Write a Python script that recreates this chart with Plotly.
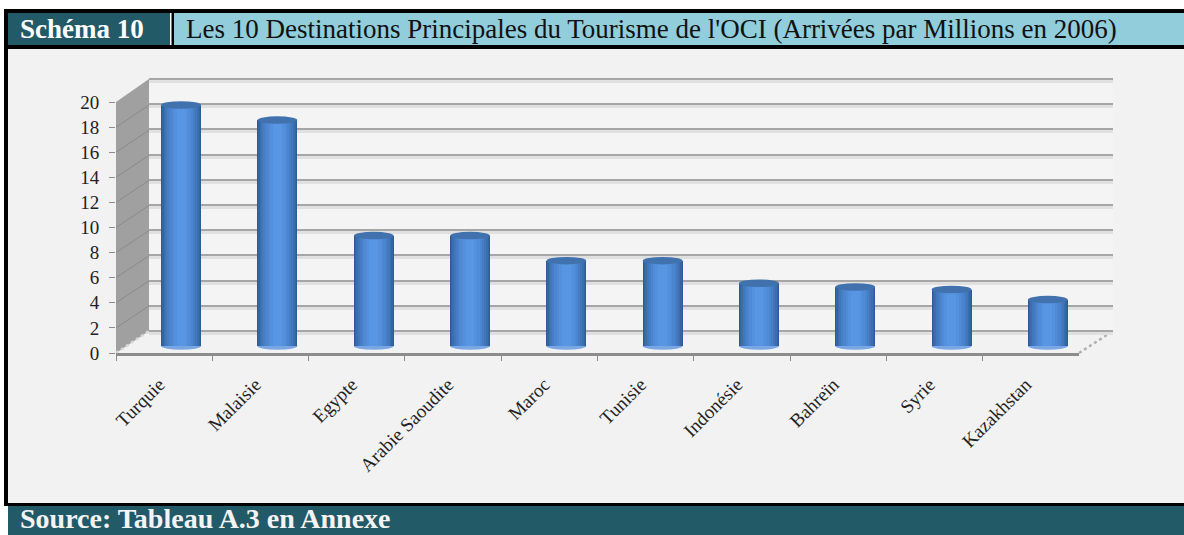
import plotly.graph_objects as go

CATEGORIES = ["Turquie", "Malaisie", "Egypte", "Arabie Saoudite", "Maroc", "Tunisie", "Indonésie", "Bahreïn", "Syrie", "Kazakhstan"]
ARRIVALS = [19.2, 18.0, 8.8, 8.8, 6.8, 6.8, 5.0, 4.7, 4.5, 3.7]
Y_TICKS = list(range(0, 21, 2))
HEADER_TAG = "Schéma 10"
HEADER_TITLE = "Les 10 Destinations Principales du Tourisme de l'OCI (Arrivées par Millions en 2006)"
FOOTER = "Source: Tableau A.3 en Annexe"

W, H = 1184, 535
FONT = "Liberation Serif"
TEAL = "#225a68"
SKY = "#92cddc"
PANEL = "#f2f2f2"
GRID = "#a6a6a6"
AXIS = "#8c8c8c"
SCALE = 12.55

def fx(p): return p / W
def fy(p): return 1 - p / H

def rect(x0, y0, x1, y1, color):
    return dict(type="rect", xref="paper", yref="paper", x0=fx(x0), x1=fx(x1), y0=fy(y0), y1=fy(y1),
                fillcolor=color, line_width=0, layer="below")

shapes = [
    rect(4, 9, 1184, 506, "#000000"),
    rect(8, 13, 170, 45, TEAL),
    rect(170, 13, 171.5, 45, "#ffffff"),
    rect(174, 13, 1184, 45, SKY),
    rect(8, 49, 1184, 503, PANEL),
    rect(8, 506, 1184, 535, TEAL),
    # back wall, barely lighter than the panel
    rect(149, 79, 1113, 331, "#f4f4f4"),
    # side wall
    dict(type="path", xref="paper", yref="paper", layer="below", fillcolor="#a0a0a0", line_width=0,
         path=f"M {fx(116)} {fy(102)} L {fx(149)} {fy(79)} L {fx(149)} {fy(331)} L {fx(116)} {fy(353)} Z"),
    # floor edges
    dict(type="line", xref="paper", yref="paper", layer="below", x0=fx(1079), x1=fx(1113), y0=fy(353), y1=fy(331),
         line=dict(color="#b0b0b0", width=2.5, dash="dot")),
    dict(type="line", xref="paper", yref="paper", layer="below", x0=fx(116), x1=fx(149), y0=fy(353), y1=fy(331),
         line=dict(color="#d8d8d8", width=2.5, dash="dot")),
]
DEPTH = 22 / SCALE
for v in Y_TICKS[1:]:
    shapes.append(dict(type="line", xref="paper", yref="y", x0=fx(116), x1=fx(149), y0=v, y1=v + DEPTH,
                       line=dict(color="#8a8a8a", width=1), layer="below"))

fig = go.Figure()

for ax in ("", "2", "3"):
    fig.add_trace(go.Scatter(x=CATEGORIES, y=ARRIVALS, xaxis="x" + ax, yaxis="y" + ax, mode="markers",
                             marker=dict(opacity=0), showlegend=False, hoverinfo="skip"))

BAR_W = 0.415
STRIPS = [(1.0, "#2f5c96"), (0.95, "#35659f"), (0.88, "#3b6eae"), (0.8, "#4176bb"), (0.7, "#467ec6"), (0.6, "#4b85d0"),
          (0.48, "#508bd8"), (0.36, "#5490dd"), (0.22, "#5895e2")]
for frac, color in STRIPS:
    fig.add_trace(go.Bar(x=CATEGORIES, y=ARRIVALS, xaxis="x4", yaxis="y4", width=BAR_W * frac,
                         marker=dict(color=color, line_width=0), showlegend=False))
CAP = 0.3
for i, v in enumerate(ARRIVALS):
    shapes.append(dict(type="circle", xref="x4", yref="y4", layer="above", x0=i - BAR_W / 2, x1=i + BAR_W / 2,
                       y0=v - CAP, y1=v + CAP, fillcolor="#4272ae", line_width=0))
    shapes.append(dict(type="circle", xref="x4", yref="y4", layer="below", x0=i - BAR_W / 2, x1=i + BAR_W / 2,
                       y0=-CAP, y1=CAP, fillcolor="#7aa7e4", line_width=0))

def ann(text, x, y, size, color, bold=False):
    return dict(text=f"<b>{text}</b>" if bold else text, xref="paper", yref="paper", x=fx(x), y=fy(y), xanchor="left", yanchor="middle",
                showarrow=False, font=dict(family=FONT, size=size, color=color))

tickfont = dict(family=FONT, size=19, color="#222222")
X_RANGE = [-0.5, 9.5]
hidden = dict(visible=False, type="category", categoryorder="array", categoryarray=CATEGORIES, automargin=False, range=X_RANGE)
BAR_PAD = 10
G = 0.1  # keeps the 0 and 20 gridlines inside the range
GP = G * SCALE
fig.update_layout(
    width=W, height=H, margin=dict(l=0, r=0, t=0, b=0, autoexpand=False), paper_bgcolor="#ffffff", plot_bgcolor="rgba(0,0,0,0)",
    barmode="overlay", bargap=0, shapes=shapes, showlegend=False,
    annotations=[ann(HEADER_TAG, 18, 29, 27, "#ffffff", True), ann(HEADER_TITLE, 184, 29, 27, "#111111"),
                 ann(FOOTER, 18, 518, 28, "#f4f4f4", True)],
    xaxis=dict(domain=[fx(116), fx(1079)], anchor="y", type="category", categoryorder="array", categoryarray=CATEGORIES, range=X_RANGE,
               tickson="boundaries", ticks="outside", ticklen=5, tickcolor=AXIS, tickangle=-45, showline=True, linecolor=AXIS, linewidth=3,
               showgrid=False, tickfont=tickfont, automargin=False, ticklabelstandoff=10, ticklabelshift=-5),
    yaxis=dict(domain=[fy(353), fy(102)], anchor="x", range=[0, 20], tickvals=Y_TICKS, ticks="outside", ticklen=6, tickcolor=AXIS,
               showline=False, showgrid=False, zeroline=False, tickfont=tickfont, automargin=False, ticklabelstandoff=6),
    xaxis2=dict(domain=[fx(149), fx(1113)], anchor="y2", **hidden),
    yaxis2=dict(domain=[fy(333.5 + GP), fy(81.5 - GP)], anchor="x2", range=[-G, 20 + G], tickvals=Y_TICKS, showgrid=True, gridcolor="#e0e0e0", gridwidth=3,
                zeroline=False, showticklabels=False, ticks="", showline=False, automargin=False),
    xaxis3=dict(domain=[fx(149), fx(1113)], anchor="y3", **hidden),
    yaxis3=dict(domain=[fy(331 + GP), fy(79 - GP)], anchor="x3", range=[-G, 20 + G], tickvals=Y_TICKS, showgrid=True, gridcolor=GRID, gridwidth=2,
                zeroline=False, showticklabels=False, ticks="", showline=False, automargin=False),
    xaxis4=dict(domain=[fx(133), fx(1096)], anchor="y4", **hidden),
    yaxis4=dict(domain=[fy(346 + BAR_PAD), fy(95)], anchor="x4", range=[-BAR_PAD / SCALE, 20], visible=False, automargin=False),
)
fig.write_html("out.html", config=dict(displayModeBar=False), post_script="document.body.style.margin='0';")
